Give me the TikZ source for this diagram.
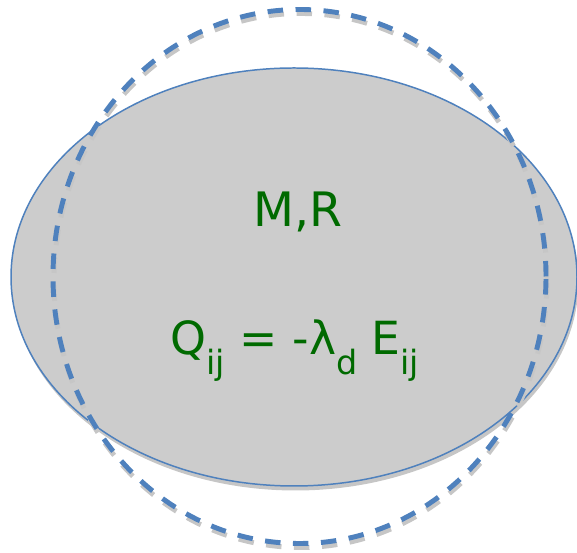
\documentclass[tikz,border=0pt]{standalone}
\usepackage{fontspec}
\setmainfont{DejaVu Sans}
\usepackage{xcolor}
\usetikzlibrary{calc}
\definecolor{rimblue}{HTML}{4F81BD}
\definecolor{labelgreen}{HTML}{006A00}
\definecolor{bodygray}{HTML}{CCCCCC}
\newcommand{\lowidx}[1]{\raisebox{-0.42em}{\fontsize{19}{23}\selectfont #1}}

\begin{document}
\begin{tikzpicture}[
    rim/.style={draw=rimblue, line width=0.85pt},
    dashrim/.style={draw=rimblue, line width=2.8pt, dash pattern=on 0.31cm off 0.25cm},
    shade/.style={gray!45},
    label/.style={text=labelgreen, font=\fontsize{27}{32}\selectfont, inner sep=0pt}]
\useasboundingbox (0,0) rectangle (11.54,11.06);
% deformed body
\fill[shade] (5.91,5.43) ellipse (5.66 and 4.18);
\filldraw[fill=bodygray, rim] (5.88,5.52) ellipse (5.66 and 4.18);
% undeformed outline
\draw[shade, line width=2.8pt, dash pattern=on 0.31cm off 0.25cm] (6.01,5.45) ellipse (4.93 and 5.34);
\draw[dashrim] (5.99,5.53) ellipse (4.93 and 5.34);

\node[label, anchor=base] (mr) at (5.96,6.52) {M,R};
\node[label, anchor=base, font=\fontsize{26}{31}\selectfont] (law) at (5.90,3.96) {Q\lowidx{ij} = -λ\lowidx{d} E\lowidx{ij}};
\end{tikzpicture}
\end{document}
